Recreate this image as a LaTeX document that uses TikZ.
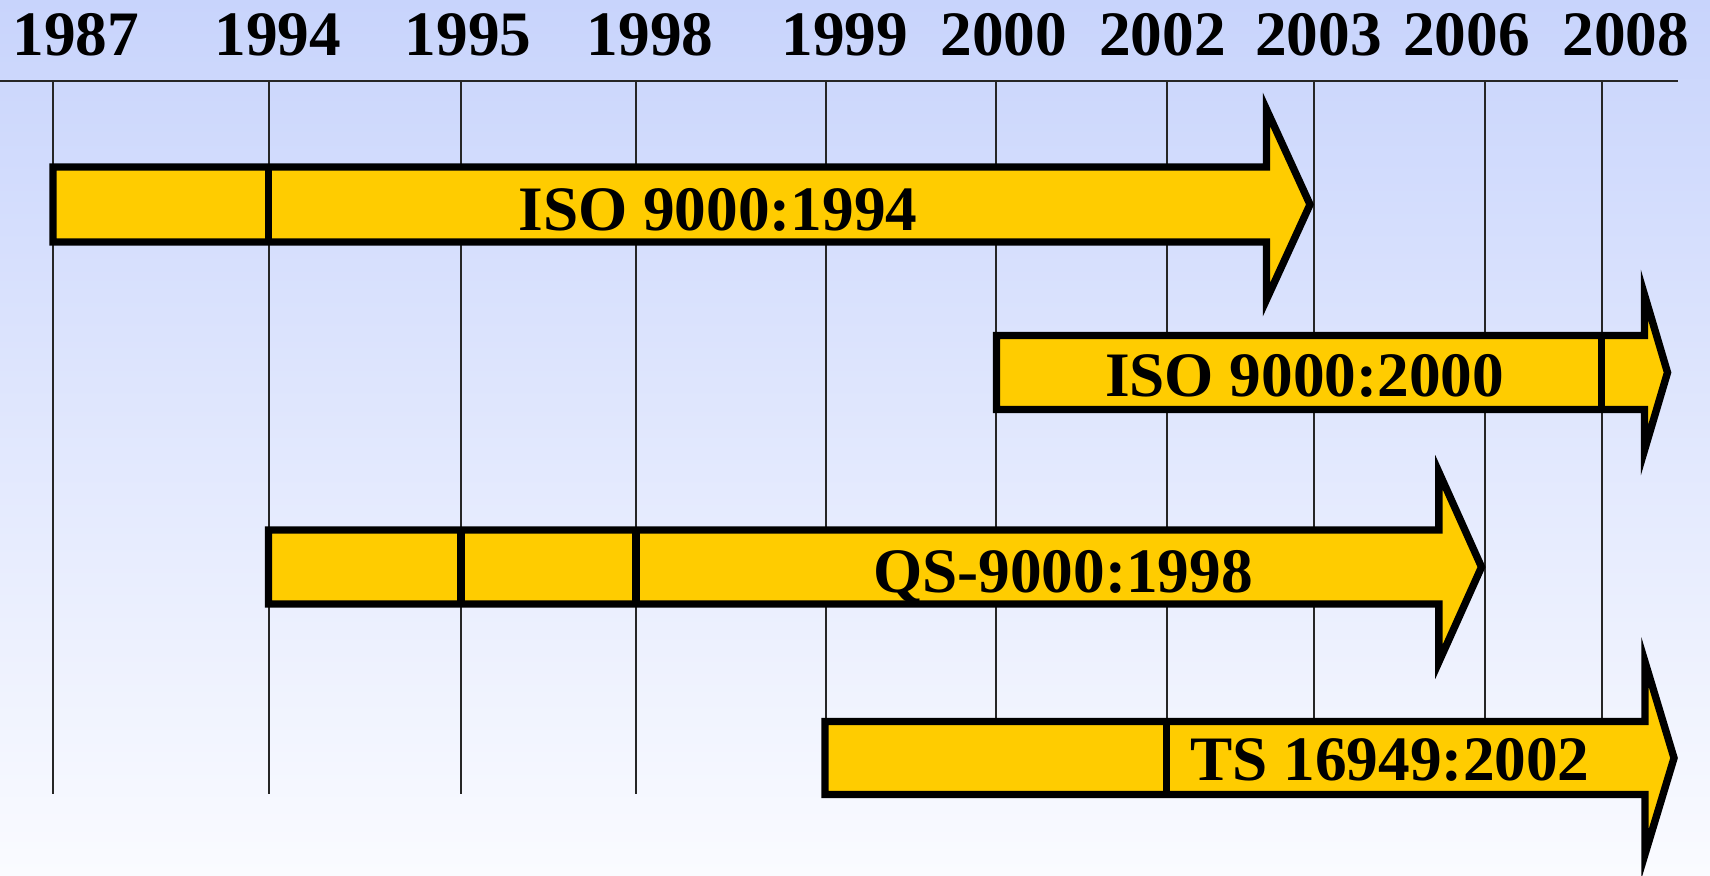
\documentclass[tikz,border=0pt]{standalone}
\usepackage{fontspec}
\usepackage{xcolor}
\usepackage{tikz}
\setmainfont{Liberation Serif}

\definecolor{skytop}{RGB}{200,212,252}
\definecolor{skybottom}{RGB}{250,251,255}
\definecolor{barfill}{HTML}{FFCC00}

\begin{document}
\begin{tikzpicture}[x=0.01cm, y=-0.01cm,
    gridline/.style={line width=0.57pt, black!85},
    bar/.style={line width=2.1pt, draw=black, fill=barfill},
    divider/.style={line width=2.1pt, black},
    yearlabel/.style={anchor=base, inner sep=0pt, font=\bfseries\fontsize{18}{20}\selectfont},
    barlabel/.style={anchor=base, inner sep=0pt, font=\bfseries\fontsize{18}{20}\selectfont}]
        \useasboundingbox (0,0) rectangle (1710,875);

        % Background fading from light blue to white
        \shade[top color=skytop, bottom color=skybottom] (0,0) rectangle (1710,875);

        % Axis line under the years
        \draw[gridline] (0,80.7) -- (1678,80.7);

        % Year labels and their vertical lines
        \foreach \yr/\lx/\gx in {1987/75.7/53, 1994/277.8/268.5, 1995/468/461,
                                 1998/650/636, 1999/844.8/825.5, 2000/1003.7/995.5,
                                 2002/1162.6/1166.5, 2003/1318.4/1313.5,
                                 2006/1466.6/1484.5, 2008/1625.7/1601.5} {
            \draw[gridline] (\gx,80.7) -- (\gx,794);
            \node[yearlabel] (y\yr) at (\lx,55) {\yr};
        }

        % ISO 9000:1994 arrow
        \draw[bar] (53,167) -- (1266.5,167) -- (1266.5,109.5) -- (1310,204.5)
            -- (1266.5,299.5) -- (1266.5,242) -- (53,242) -- cycle;
        \draw[divider] (268.5,167) -- (268.5,242);
        \node[barlabel] (iso94) at (718,230) {ISO 9000:1994};

        % ISO 9000:2000 arrow
        \draw[bar] (996.5,335.5) -- (1644.5,335.5) -- (1644.5,295) -- (1667.5,372.5)
            -- (1644.5,450) -- (1644.5,409.5) -- (996.5,409.5) -- cycle;
        \draw[divider] (1601.5,335.5) -- (1601.5,409.5);
        \node[barlabel] (iso00) at (1304.6,396.7) {ISO 9000:2000};

        % QS-9000:1998 arrow
        \draw[bar] (268.5,530) -- (1438.8,530) -- (1438.8,472) -- (1481.5,567)
            -- (1438.8,662) -- (1438.8,604) -- (268.5,604) -- cycle;
        \draw[divider] (461,530) -- (461,604);
        \draw[divider] (636,530) -- (636,604);
        \node[barlabel] (qs98) at (1063,592) {QS-9000:1998};

        % TS 16949:2002 arrow
        \draw[bar] (825,721.5) -- (1645,721.5) -- (1645,662) -- (1674,758)
            -- (1645,854) -- (1645,794.5) -- (825,794.5) -- cycle;
        \draw[divider] (1166.5,721.5) -- (1166.5,794.5);
        \node[barlabel] (ts02) at (1390,780) {TS 16949:2002};
    \end{tikzpicture}
\end{document}
